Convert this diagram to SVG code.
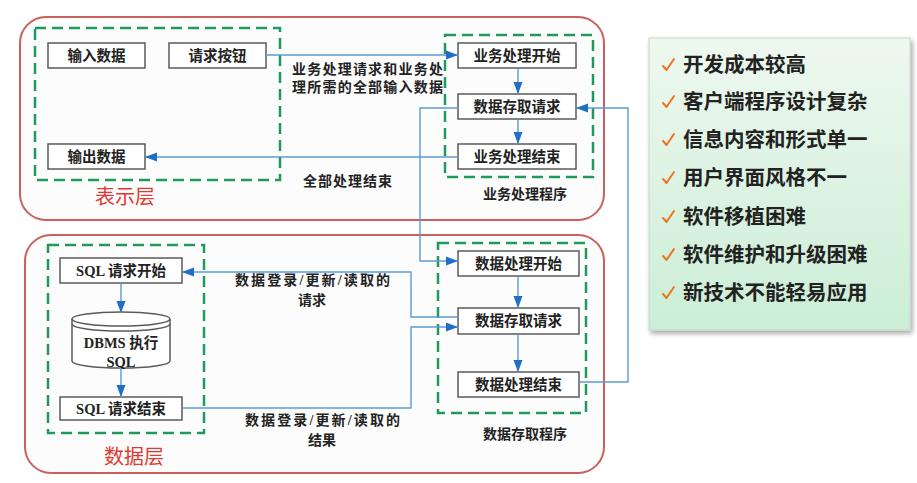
<svg xmlns="http://www.w3.org/2000/svg" width="917" height="483" viewBox="0 0 917 483">
<defs>
<marker id="arr" markerUnits="userSpaceOnUse" markerWidth="12" markerHeight="10" refX="12" refY="5" orient="auto">
<path d="M0,0.5 L12,5 L0,9.5 Z" fill="#1f6fc8"/>
</marker>
<linearGradient id="pg" x1="0" y1="0" x2="0" y2="1">
<stop offset="0" stop-color="#eef8ef"/>
<stop offset="1" stop-color="#cbeed6"/>
</linearGradient>
<filter id="sh" x="-10%" y="-10%" width="120%" height="120%">
<feGaussianBlur in="SourceAlpha" stdDeviation="2.5"/>
<feOffset dx="2" dy="3" result="b"/>
<feFlood flood-color="#000" flood-opacity="0.35"/>
<feComposite in2="b" operator="in"/>
<feMerge><feMergeNode/><feMergeNode in="SourceGraphic"/></feMerge>
</filter>
</defs>
<style>
.layer{fill:#fcfcfc;stroke:#c9605a;stroke-width:2}
.grp{fill:none;stroke:#1f9a5c;stroke-width:2.5;stroke-dasharray:11 6}
.box{fill:#ffffff;stroke:#5a5a5a;stroke-width:1.5}
.nt{font-family:"Liberation Serif","Noto Sans CJK SC",serif;font-size:14.5px;font-weight:bold;fill:#222;text-anchor:middle}
.lb{font-family:"Liberation Serif","Noto Sans CJK SC",serif;font-size:14px;font-weight:bold;fill:#222}
.lt{font-family:"Liberation Serif","Noto Sans CJK SC",serif;font-size:20px;fill:#e03a32;text-anchor:middle}
.con{fill:none;stroke:#5b9bd5;stroke-width:1.4}
.it{font-family:"Noto Sans CJK SC","Noto Sans",sans-serif;font-size:20.5px;font-weight:bold;fill:#222}
.ck{fill:none;stroke:#ef7420;stroke-width:2;stroke-linecap:round;stroke-linejoin:round}
</style>
<rect width="917" height="483" fill="#ffffff"/>

<!-- layers -->
<g id="presentation-layer">
<rect class="layer" x="20" y="17" width="584" height="203" rx="26"/>
<text class="lt" x="125" y="204">表示层</text>
</g>
<g id="data-layer">
<rect class="layer" x="25" y="235" width="579" height="238" rx="26"/>
<text class="lt" x="134" y="464">数据层</text>
</g>

<!-- dashed groups -->
<g id="ui-group"><rect class="grp" x="35" y="28" width="245" height="152"/></g>
<g id="biz-group">
<rect class="grp" x="445" y="35" width="148" height="142"/>
<text class="nt" x="525" y="199" style="font-size:14px">业务处理程序</text>
</g>
<g id="sql-group"><rect class="grp" x="48" y="245" width="156" height="188"/></g>
<g id="dao-group">
<rect class="grp" x="438" y="243" width="148" height="170"/>
<text class="nt" x="525" y="439" style="font-size:14px">数据存取程序</text>
</g>

<!-- nodes -->
<g id="input-data"><rect class="box" x="48" y="43" width="97" height="25"/><text class="nt" x="96.5" y="61">输入数据</text></g>
<g id="request-button"><rect class="box" x="169" y="43" width="97" height="25"/><text class="nt" x="217.5" y="61">请求按钮</text></g>
<g id="output-data"><rect class="box" x="48" y="144" width="97" height="25"/><text class="nt" x="96.5" y="162">输出数据</text></g>

<g id="biz-start"><rect class="box" x="458" y="43" width="118" height="25"/><text class="nt" x="517" y="61">业务处理开始</text></g>
<g id="biz-access"><rect class="box" x="458" y="94" width="118" height="25"/><text class="nt" x="517" y="112">数据存取请求</text></g>
<g id="biz-end"><rect class="box" x="458" y="144" width="118" height="25"/><text class="nt" x="517" y="162">业务处理结束</text></g>

<g id="sql-start"><rect class="box" x="60" y="258" width="122" height="25"/><text class="nt" x="121" y="276">SQL 请求开始</text></g>
<g id="dbms">
<path class="box" d="M72,319 A49,7 0 0 1 170,319 V361 A49,7 0 0 1 72,361 Z"/>
<path class="box" d="M72,319 A49,7 0 0 0 170,319" style="fill:none"/>
<path class="box" d="M72,324 A49,7 0 0 0 170,324" style="fill:none"/>
<text class="nt" x="121" y="348">DBMS 执行</text>
<text class="nt" x="121" y="367">SQL</text>
</g>
<g id="sql-end"><rect class="box" x="60" y="397" width="122" height="23"/><text class="nt" x="121" y="414">SQL 请求结束</text></g>

<g id="data-start"><rect class="box" x="458" y="251" width="121" height="25"/><text class="nt" x="518.5" y="269">数据处理开始</text></g>
<g id="data-access"><rect class="box" x="458" y="308" width="121" height="26"/><text class="nt" x="518.5" y="326">数据存取请求</text></g>
<g id="data-end"><rect class="box" x="458" y="372" width="121" height="25"/><text class="nt" x="518.5" y="390">数据处理结束</text></g>

<!-- connectors -->
<g id="connectors">
<path class="con" d="M266,55 H458" marker-end="url(#arr)"/>
<path class="con" d="M518,68 V94" marker-end="url(#arr)"/>
<path class="con" d="M518,119 V144" marker-end="url(#arr)"/>
<path class="con" d="M458,157 H145" marker-end="url(#arr)"/>
<path class="con" d="M458,108 H420 V261 H458" marker-end="url(#arr)"/>
<path class="con" d="M518,276 V308" marker-end="url(#arr)"/>
<path class="con" d="M518,334 V372" marker-end="url(#arr)"/>
<path class="con" d="M458,317 H411 V272 H182" marker-end="url(#arr)"/>
<path class="con" d="M182,408 H411 V327 H458" marker-end="url(#arr)"/>
<path class="con" d="M579,382 H628 V108 H576" marker-end="url(#arr)"/>
<path class="con" d="M121,283 V313" marker-end="url(#arr)"/>
<path class="con" d="M121,368 V397" marker-end="url(#arr)"/>
<text class="lb" x="292" y="74" textLength="151" lengthAdjust="spacing">业务处理请求和业务处</text>
<text class="lb" x="292" y="92" textLength="151" lengthAdjust="spacing">理所需的全部输入数据</text>
<text class="lb" x="303" y="186" textLength="89" lengthAdjust="spacing">全部处理结束</text>
<text class="lb" x="235" y="285" textLength="155" lengthAdjust="spacing">数据登录/更新/读取的</text>
<text class="lb" x="312" y="305" text-anchor="middle">请求</text>
<text class="lb" x="245" y="425" textLength="155" lengthAdjust="spacing">数据登录/更新/读取的</text>
<text class="lb" x="322" y="445" text-anchor="middle">结果</text>
</g>

<!-- right panel -->
<g id="drawbacks">
<rect x="649" y="38" width="261" height="292" fill="url(#pg)" stroke="#c8d8cc" stroke-width="1" filter="url(#sh)"/>
<path class="ck" d="M663,66 L666.5,70 L674,59"/>
<text class="it" x="683" y="72">开发成本较高</text>
<path class="ck" d="M663,103 L666.5,107 L674,96"/>
<text class="it" x="683" y="109">客户端程序设计复杂</text>
<path class="ck" d="M663,141 L666.5,145 L674,134"/>
<text class="it" x="683" y="147">信息内容和形式单一</text>
<path class="ck" d="M663,179 L666.5,183 L674,172"/>
<text class="it" x="683" y="185">用户界面风格不一</text>
<path class="ck" d="M663,218 L666.5,222 L674,211"/>
<text class="it" x="683" y="224">软件移植困难</text>
<path class="ck" d="M663,256 L666.5,260 L674,249"/>
<text class="it" x="683" y="262">软件维护和升级困难</text>
<path class="ck" d="M663,294 L666.5,298 L674,287"/>
<text class="it" x="683" y="300">新技术不能轻易应用</text>
</g>
</svg>
